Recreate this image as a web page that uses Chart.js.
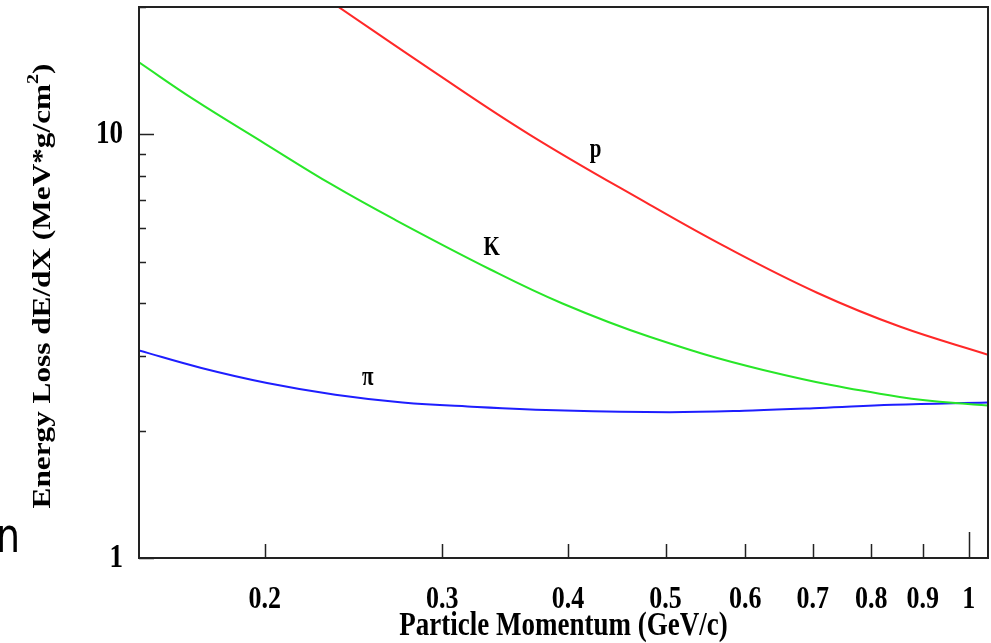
<!DOCTYPE html>
<html>
<head>
<meta charset="utf-8">
<script src="https://cdn.jsdelivr.net/npm/chart.js@4/dist/chart.umd.min.js"></script>
<style>
  html, body { margin: 0; padding: 0; background: #fff; }
  #wrap { width: 991px; height: 643px; position: relative; }
</style>
</head>
<body>
<div id="wrap"><canvas id="c"></canvas></div>
<script>
// momentum (GeV/c) and dE/dX (MeV*g/cm^2)
const protonP = [0.236, 0.292, 0.367, 0.482, 0.575, 0.707, 0.854, 1.045]
const protonLoss = [20.1, 14.25, 9.97, 6.83, 5.41, 4.23, 3.52, 3.02]

const kaonP = [0.150, 0.170, 0.200, 0.233, 0.269, 0.335, 0.395, 0.482, 0.625, 0.854, 1.045]
const kaonLoss = [14.8, 12.1, 9.52, 7.62, 6.30, 4.80, 3.99, 3.33, 2.78, 2.40, 2.29]

const pionP = [0.150, 0.173, 0.201, 0.235, 0.274, 0.318, 0.397, 0.505, 0.610, 0.711, 0.841, 1.045]
const pionLoss = [3.09, 2.81, 2.59, 2.43, 2.33, 2.28, 2.23, 2.21, 2.23, 2.26, 2.30, 2.33]

// axis ticks
const xTicks = [0.2, 0.3, 0.4, 0.5, 0.6, 0.7, 0.8, 0.9, 1]
const xTickLabels = ['0.2', '0.3', '0.4', '0.5', '0.6', '0.7', '0.8', '0.9', '1']
const yTicks = [1, 2, 3, 4, 5, 6, 7, 8, 9, 10, 20]
const yTickLabels = { 1: '1', 10: '10' }

// curve labels: [text, momentum, dE/dX]
const curveLabels = [['p', 0.426, 9.2], ['K', 0.336, 5.4], ['π', 0.253, 2.66]]

const toPoints = (xs, ys) => xs.map((x, i) => ({ x: x, y: ys[i] }))

const SERIF = '"Liberation Serif", "Times New Roman", serif'
const STRETCH = 1.25

// draw text squeezed like the original (taller than wide)
const drawText = (ctx, text, x, y, size, align, baseline) => {
  ctx.save()
  ctx.translate(x, y)
  ctx.scale(1, STRETCH)
  ctx.font = 'bold ' + size + 'px ' + SERIF
  ctx.textAlign = align
  ctx.textBaseline = baseline
  ctx.fillText(text, 0, 0)
  ctx.restore()
}

const framePlugin = {
  id: 'frame',
  afterDatasetsDraw(chart) {
    const ctx = chart.ctx
    const a = chart.chartArea
    const xs = chart.scales.x
    const ys = chart.scales.y
    ctx.save()
    ctx.strokeStyle = '#222'
    ctx.lineWidth = 2
    ctx.strokeRect(a.left, a.top, a.right - a.left, a.bottom - a.top)

    // inner tick marks
    ctx.beginPath()
    yTicks.forEach(v => {
      const py = Math.round(ys.getPixelForValue(v)) + 0.5
      const len = (v === 1 || v === 10) ? 15 : 7
      ctx.moveTo(a.left, py)
      ctx.lineTo(a.left + len, py)
    })
    xTicks.forEach(v => {
      const px = Math.round(xs.getPixelForValue(v)) + 0.5
      const len = v === 1 ? 26 : 14
      ctx.moveTo(px, a.bottom)
      ctx.lineTo(px, a.bottom - len)
    })
    ctx.lineWidth = 1.5
    ctx.stroke()

    ctx.fillStyle = '#000'
    // tick labels
    xTicks.forEach((v, i) => {
      drawText(ctx, xTickLabels[i], xs.getPixelForValue(v), 600, 26, 'center', 'middle')
    })
    yTicks.forEach(v => {
      if (yTickLabels[v]) drawText(ctx, yTickLabels[v], 123, ys.getPixelForValue(v), 27, 'right', 'middle')
    })

    // curve labels
    curveLabels.forEach(l => {
      drawText(ctx, l[0], xs.getPixelForValue(l[1]), ys.getPixelForValue(l[2]), 21, 'center', 'middle')
    })

    // x title
    drawText(ctx, 'Particle Momentum (GeV/c)', (a.left + a.right) / 2, 626, 27, 'center', 'middle')

    // y title, rotated, with superscript
    ctx.save()
    ctx.translate(44, 286)
    ctx.rotate(-Math.PI / 2)
    ctx.scale(STRETCH, 1)
    ctx.textBaseline = 'middle'
    ctx.textAlign = 'left'
    const main = 'Energy Loss dE/dX (MeV*g/cm'
    ctx.font = 'bold 25px ' + SERIF
    const w1 = ctx.measureText(main).width
    const w3 = ctx.measureText(')').width
    ctx.font = 'bold 16px ' + SERIF
    const w2 = ctx.measureText('2').width
    const start = -(w1 + w2 + w3) / 2
    ctx.font = 'bold 25px ' + SERIF
    ctx.fillText(main, start, 0)
    ctx.font = 'bold 16px ' + SERIF
    ctx.fillText('2', start + w1, -10)
    ctx.font = 'bold 25px ' + SERIF
    ctx.fillText(')', start + w1 + w2, 0)
    ctx.restore()

    // stray glyph at the left edge of the original picture
    ctx.save()
    ctx.translate(-4, 552)
    ctx.scale(1, STRETCH)
    ctx.font = '38px "DejaVu Sans", sans-serif'
    ctx.textAlign = 'left'
    ctx.textBaseline = 'alphabetic'
    ctx.fillText('n', 0, 0)
    ctx.restore()

    ctx.restore()
  }
}

const lineStyle = color => ({
  borderColor: color,
  borderWidth: 2,
  pointRadius: 0,
  showLine: true,
  fill: false,
  tension: 0.4
})

new Chart(document.getElementById('c'), {
  type: 'scatter',
  data: {
    datasets: [
      Object.assign({ label: 'p', data: toPoints(protonP, protonLoss) }, lineStyle('rgb(255, 40, 40)')),
      Object.assign({ label: 'K', data: toPoints(kaonP, kaonLoss) }, lineStyle('rgb(40, 230, 40)')),
      Object.assign({ label: 'π', data: toPoints(pionP, pionLoss) }, lineStyle('rgb(30, 30, 255)'))
    ]
  },
  options: {
    responsive: true,
    maintainAspectRatio: false,
    animation: false,
    layout: { padding: { left: 139, top: 7, right: 3, bottom: 85 } },
    scales: {
      x: { type: 'logarithmic', min: 0.15, max: 1.045, display: false },
      y: { type: 'logarithmic', min: 1, max: 20, display: false }
    },
    plugins: {
      legend: { display: false },
      tooltip: { enabled: false }
    }
  },
  plugins: [framePlugin]
})
</script>
</body>
</html>
